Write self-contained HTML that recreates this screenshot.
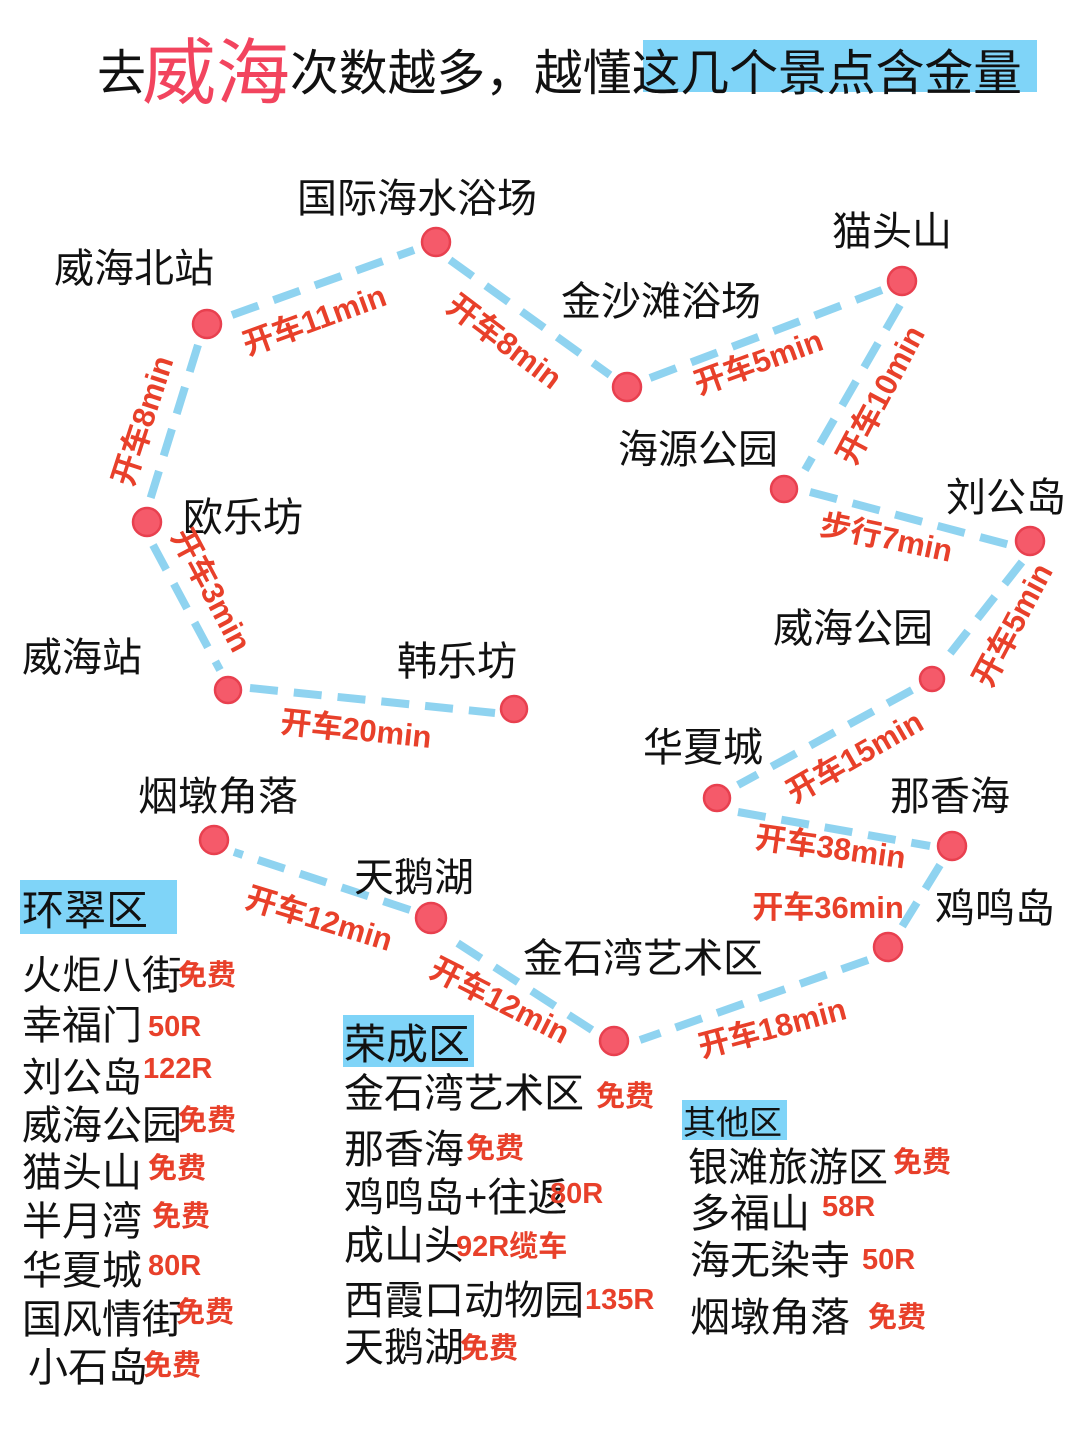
<!DOCTYPE html>
<html><head><meta charset="utf-8"><style>
html,body{margin:0;padding:0;background:#fff;}
svg{display:block;}
text{font-family:"Liberation Sans","Noto Sans CJK SC",sans-serif;}
.n{font-size:40px;fill:#111;}
.r{font-size:31px;fill:#e8402a;font-weight:bold;}
.p{font-size:29px;fill:#e8402a;font-weight:bold;}
</style></head><body>
<svg width="1080" height="1440" viewBox="0 0 1080 1440" xmlns="http://www.w3.org/2000/svg">
<rect x="643" y="40" width="394" height="52" fill="#7fd4f8"/>
<text x="97" y="90" style="font-size:49px;fill:#111">去</text>
<text x="142" y="98" style="font-size:72px;fill:#f2445e" textLength="148" lengthAdjust="spacingAndGlyphs">威海</text>
<text x="290" y="90" style="font-size:49px;fill:#111" textLength="732" lengthAdjust="spacingAndGlyphs">次数越多，越懂这几个景点含金量</text>

<g stroke="#8fd3f0" stroke-width="8" stroke-dasharray="28 16" fill="none">
<line x1="232" y1="315" x2="414" y2="250"/>
<line x1="450" y1="260" x2="610" y2="375"/>
<line x1="650" y1="378" x2="882" y2="290"/>
<line x1="900" y1="305" x2="805" y2="470"/>
<line x1="810" y1="492" x2="1010" y2="545"/>
<line x1="1022" y1="562" x2="945" y2="660"/>
<line x1="912" y1="690" x2="738" y2="785"/>
<line x1="738" y1="812" x2="930" y2="846"/>
<line x1="940" y1="865" x2="900" y2="930"/>
<line x1="868" y1="960" x2="640" y2="1040"/>
<line x1="592" y1="1030" x2="445" y2="935"/>
<line x1="410" y1="910" x2="234" y2="852"/>
<line x1="198" y1="345" x2="150" y2="500"/>
<line x1="153" y1="545" x2="220" y2="670"/>
<line x1="250" y1="688" x2="495" y2="713"/>
</g>
<g fill="#f55a6a" stroke="#e8404f" stroke-width="2.5">
<circle cx="207" cy="324" r="14"/><circle cx="436" cy="242" r="14"/>
<circle cx="627" cy="387" r="14"/><circle cx="902" cy="281" r="14"/>
<circle cx="784" cy="489" r="13"/><circle cx="1030" cy="541" r="14"/>
<circle cx="932" cy="679" r="12"/><circle cx="717" cy="798" r="13"/>
<circle cx="952" cy="846" r="14"/><circle cx="888" cy="947" r="14"/>
<circle cx="614" cy="1041" r="14"/><circle cx="431" cy="918" r="15"/>
<circle cx="214" cy="840" r="14"/><circle cx="147" cy="522" r="14"/>
<circle cx="228" cy="690" r="13"/><circle cx="514" cy="709" r="13"/>
</g>

<text class="n" x="54" y="282">威海北站</text>
<text class="n" x="297" y="212">国际海水浴场</text>
<text class="n" x="561" y="315">金沙滩浴场</text>
<text class="n" x="832" y="245">猫头山</text>
<text class="n" x="618" y="463">海源公园</text>
<text class="n" x="946" y="511">刘公岛</text>
<text class="n" x="773" y="642">威海公园</text>
<text class="n" x="643" y="761">华夏城</text>
<text class="n" x="890" y="810">那香海</text>
<text class="n" x="935" y="922">鸡鸣岛</text>
<text class="n" x="523" y="972">金石湾艺术区</text>
<text class="n" x="354" y="891">天鹅湖</text>
<text class="n" x="138" y="810">烟墩角落</text>
<text class="n" x="183" y="531">欧乐坊</text>
<text class="n" x="22" y="671">威海站</text>
<text class="n" x="397" y="675">韩乐坊</text>

<text class="r" text-anchor="middle" transform="translate(318,330) rotate(-20)">开车11min</text>
<text class="r" text-anchor="middle" transform="translate(498,350) rotate(37)">开车8min</text>
<text class="r" text-anchor="middle" transform="translate(762,372) rotate(-20)">开车5min</text>
<text class="r" text-anchor="middle" transform="translate(890,400) rotate(-62)">开车10min</text>
<text class="r" text-anchor="middle" transform="translate(884,548) rotate(12)">步行7min</text>
<text class="r" text-anchor="middle" transform="translate(1022,630) rotate(-62)">开车5min</text>
<text class="r" text-anchor="middle" transform="translate(860,766) rotate(-30)">开车15min</text>
<text class="r" text-anchor="middle" transform="translate(829,858) rotate(8)">开车38min</text>
<text class="r" text-anchor="middle" transform="translate(828,918)">开车36min</text>
<text class="r" text-anchor="middle" transform="translate(775,1038) rotate(-15)">开车18min</text>
<text class="r" text-anchor="middle" transform="translate(495,1010) rotate(27)">开车12min</text>
<text class="r" text-anchor="middle" transform="translate(316,929) rotate(17)">开车12min</text>
<text class="r" text-anchor="middle" transform="translate(153,424) rotate(-72)">开车8min</text>
<text class="r" text-anchor="middle" transform="translate(202,595) rotate(62)">开车3min</text>
<text class="r" text-anchor="middle" transform="translate(355,740) rotate(6)">开车20min</text>

<rect x="20" y="880" width="157" height="54" fill="#7fd4f8"/>
<text x="22" y="925" style="font-size:42px;fill:#111">环翠区</text>
<text class="n" x="22" y="989">火炬八街</text>
<text class="n" x="22" y="1039">幸福门</text>
<text class="n" x="22" y="1091">刘公岛</text>
<text class="n" x="22" y="1139">威海公园</text>
<text class="n" x="22" y="1186">猫头山</text>
<text class="n" x="22" y="1235">半月湾</text>
<text class="n" x="22" y="1284">华夏城</text>
<text class="n" x="22" y="1333">国风情街</text>
<text class="n" x="28" y="1381">小石岛</text>
<text class="p" x="178" y="985">免费</text>
<text class="p" x="148" y="1036">50R</text>
<text class="p" x="143" y="1078">122R</text>
<text class="p" x="178" y="1130">免费</text>
<text class="p" x="148" y="1178">免费</text>
<text class="p" x="152" y="1226">免费</text>
<text class="p" x="148" y="1275">80R</text>
<text class="p" x="176" y="1322">免费</text>
<text class="p" x="143" y="1375">免费</text>

<rect x="343" y="1015" width="131" height="52" fill="#7fd4f8"/>
<text x="344" y="1059" style="font-size:42px;fill:#111">荣成区</text>
<text class="n" x="344" y="1107">金石湾艺术区</text>
<text class="n" x="344" y="1163">那香海</text>
<text class="n" x="344" y="1211">鸡鸣岛+往返</text>
<text class="n" x="344" y="1259">成山头</text>
<text class="n" x="344" y="1314">西霞口动物园</text>
<text class="n" x="344" y="1361">天鹅湖</text>
<text class="p" x="596" y="1106">免费</text>
<text class="p" x="466" y="1158">免费</text>
<text class="p" x="550" y="1203">80R</text>
<text class="p" x="456" y="1256">92R缆车</text>
<text class="p" x="585" y="1309">135R</text>
<text class="p" x="460" y="1358">免费</text>

<rect x="682" y="1100" width="105" height="40" fill="#7fd4f8"/>
<text x="683" y="1134" style="font-size:33px;fill:#111">其他区</text>
<text class="n" x="688" y="1181">银滩旅游区</text>
<text class="n" x="690" y="1227">多福山</text>
<text class="n" x="690" y="1274">海无染寺</text>
<text class="n" x="690" y="1331">烟墩角落</text>
<text class="p" x="893" y="1172">免费</text>
<text class="p" x="822" y="1216">58R</text>
<text class="p" x="862" y="1269">50R</text>
<text class="p" x="868" y="1327">免费</text>
</svg>
</body></html>
